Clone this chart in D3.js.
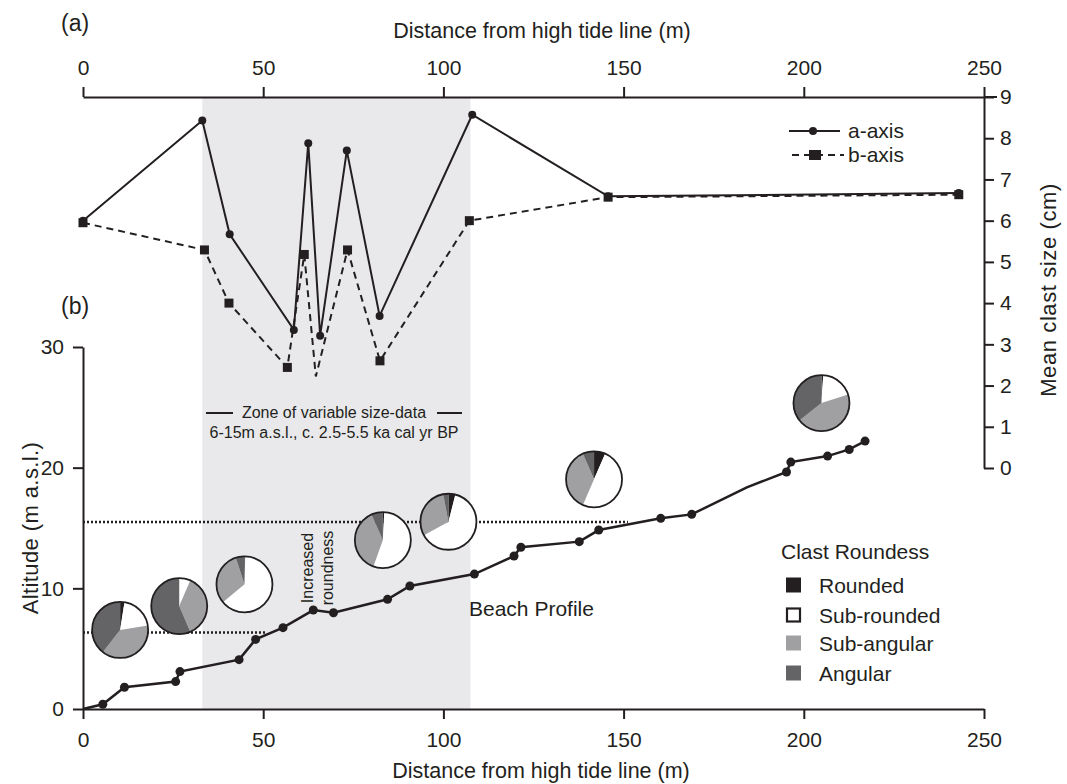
<!DOCTYPE html>
<html>
<head>
<meta charset="utf-8">
<script src="https://cdn.jsdelivr.net/npm/d3@7"></script>
<style>
body { margin: 0; background: #fff; }
svg text { font-family: "Liberation Sans", Arial, Helvetica, sans-serif; fill: #231f20; }
</style>
</head>
<body>
<div id="chart"></div>
<script>
// (a) mean clast size along the transect
var aDist = [0, 33.1, 40.7, 58.5, 62.5, 65.8, 73.2, 82.3, 108, 145.7, 243];
var aSize = [6.0, 8.43, 5.67, 3.35, 7.88, 3.21, 7.70, 3.69, 8.57, 6.59, 6.67];
var bDist = [0, 33.7, 40.5, 56.7, 61.4, 64.6, 73.4, 82.4, 107.2, 145.7, 243];
var bSize = [5.95, 5.29, 4.0, 2.44, 5.18, 2.22, 5.29, 2.60, 6.0, 6.57, 6.63];
var bNoMarker = [5];

// (b) beach profile
var profDist = [0, 5.5, 11.5, 25.7, 26.9, 43.3, 47.9, 55.5, 63.9, 69.5, 84.5, 90.7, 108.6,
                119.6, 121.5, 137.7, 143.1, 160.3, 168.9, 184.2, 195.2, 196.4, 206.6, 212.6, 217];
var profAlt = [0, 0.39, 1.8, 2.27, 3.1, 4.09, 5.77, 6.74, 8.2, 7.98, 9.09, 10.19, 11.18,
               12.68, 13.4, 13.87, 14.83, 15.8, 16.13, 18.37, 19.64, 20.46, 20.96, 21.51, 22.2];
var profNoMarker = [0, 19];

// clast roundness pies (percent)
var roundClasses = ["Rounded", "Sub-rounded", "Sub-angular", "Angular"];
var pieDist = [10.3, 26.7, 44.8, 83.2, 101.4, 141.8, 204.9];
var pieAlt = [6.55, 8.53, 10.33, 14.0, 15.52, 19.03, 25.35];
var pieRounded = [2.5, 0, 0.5, 0.8, 4, 6.5, 1];
var pieSubRounded = [20, 6.5, 63.6, 54.7, 63, 50, 19];
var pieSubAngular = [38, 37, 31, 37.8, 30, 37, 44.4];
var pieAngular = [39.5, 56.5, 5, 6.7, 3, 6.5, 35.6];

// zone + reference altitudes
var zoneStart = 33.1, zoneEnd = 107.5;
var refAlt = [6.35, 15.5];
var refEnd = [50.5, 151.2];

var distTicks = [0, 50, 100, 150, 200, 250];
var sizeTicks = [0, 1, 2, 3, 4, 5, 6, 7, 8, 9];
var altTicks = [0, 10, 20, 30];

var width = 1067, height = 784;
var ink = "#231f20";
var roundColors = [ink, "#ffffff", "#a0a0a3", "#646466"];

var svg = d3.select("#chart").append("svg")
    .attr("width", width)
    .attr("height", height);

var x = d3.scaleLinear().domain([0, 250]).range([83, 984]);
var yA = d3.scaleLinear().domain([0, 9]).range([468, 97]);
var yB = d3.scaleLinear().domain([0, 30]).range([709, 347]);

// grey zone
svg.append("rect")
    .attr("x", x(zoneStart))
    .attr("width", x(zoneEnd) - x(zoneStart))
    .attr("y", yA(9) + 1)
    .attr("height", yB(0) - yA(9) - 1)
    .attr("fill", "#e9e9eb");

function styleAxis(g, fs) {
  g.attr("font-family", null).attr("font-size", null);
  g.selectAll("path, line").attr("stroke", ink).attr("stroke-width", 2);
  g.selectAll("text").style("font-size", fs + "px").attr("fill", ink);
}

// axes
svg.append("g")
    .attr("transform", "translate(0," + yA(9) + ")")
    .call(d3.axisTop(x).tickValues(distTicks).tickSize(10).tickSizeOuter(0).tickPadding(12))
    .call(styleAxis, 21);
svg.append("line").attr("x1", x(250)).attr("x2", 997).attr("y1", yA(9)).attr("y2", yA(9))
    .attr("stroke", ink).attr("stroke-width", 2);

svg.append("g")
    .attr("transform", "translate(" + x(250) + ",0)")
    .call(d3.axisRight(yA).tickValues(sizeTicks).tickSize(10).tickSizeOuter(0).tickPadding(6))
    .call(styleAxis, 21);

svg.append("g")
    .attr("transform", "translate(" + x(0) + ",0)")
    .call(d3.axisLeft(yB).tickValues(altTicks).tickSize(10).tickSizeOuter(0).tickPadding(9))
    .call(styleAxis, 21);

svg.append("g")
    .attr("transform", "translate(0," + yB(0) + ")")
    .call(d3.axisBottom(x).tickValues(distTicks).tickSize(10).tickSizeOuter(0).tickPadding(13))
    .call(styleAxis, 21);

// axis titles
svg.append("text").attr("x", 542).attr("y", 38).attr("text-anchor", "middle")
    .style("font-size", "21.5px").text("Distance from high tide line (m)");
svg.append("text").attr("x", 541).attr("y", 778).attr("text-anchor", "middle")
    .style("font-size", "21.5px").text("Distance from high tide line (m)");
svg.append("text").attr("transform", "translate(1056,290) rotate(-90)").attr("text-anchor", "middle")
    .style("font-size", "22px").style("letter-spacing", "0.6px").text("Mean clast size (cm)");
svg.append("text").attr("transform", "translate(38,528) rotate(-90)").attr("text-anchor", "middle")
    .style("font-size", "22px").style("letter-spacing", "0.4px").text("Altitude (m a.s.l.)");
svg.append("text").attr("x", 61).attr("y", 31).style("font-size", "23px").text("(a)");
svg.append("text").attr("x", 61).attr("y", 314).style("font-size", "23px").text("(b)");

// reference dotted lines
svg.selectAll(".ref").data(refAlt).enter().append("line")
    .attr("x1", x(0)).attr("x2", function(d, i) { return x(refEnd[i]); })
    .attr("y1", function(d) { return yB(d); }).attr("y2", function(d) { return yB(d); })
    .attr("stroke", ink).attr("stroke-width", 2.5).attr("stroke-dasharray", "2,2");

// zone annotation
svg.append("text").attr("x", 334).attr("y", 418).attr("text-anchor", "middle")
    .style("font-size", "16px").text("Zone of variable size-data");
svg.append("line").attr("x1", 206).attr("x2", 233).attr("y1", 413).attr("y2", 413)
    .attr("stroke", ink).attr("stroke-width", 2);
svg.append("line").attr("x1", 437).attr("x2", 462).attr("y1", 413).attr("y2", 413)
    .attr("stroke", ink).attr("stroke-width", 2);
svg.append("text").attr("x", 334).attr("y", 438).attr("text-anchor", "middle")
    .style("font-size", "16px").text("6-15m a.s.l., c. 2.5-5.5 ka cal yr BP");

// (a) series
var lineA = d3.line().x(function(d, i) { return x(aDist[i]); }).y(function(d) { return yA(d); });
var lineB = d3.line().x(function(d, i) { return x(bDist[i]); }).y(function(d) { return yA(d); });

svg.append("path").attr("d", lineB(bSize)).attr("fill", "none")
    .attr("stroke", ink).attr("stroke-width", 2).attr("stroke-dasharray", "7,5");
svg.append("path").attr("d", lineA(aSize)).attr("fill", "none")
    .attr("stroke", ink).attr("stroke-width", 2);

bSize.forEach(function(d, i) {
  if (bNoMarker.indexOf(i) >= 0) return;
  svg.append("rect")
      .attr("x", x(bDist[i]) - 4.5).attr("y", yA(d) - 4.5)
      .attr("width", 9).attr("height", 9).attr("fill", ink);
});

svg.selectAll(".am").data(aSize).enter().append("circle")
    .attr("cx", function(d, i) { return x(aDist[i]); })
    .attr("cy", function(d) { return yA(d); })
    .attr("r", 4).attr("fill", ink);

// a/b legend
svg.append("line").attr("x1", 789).attr("x2", 840).attr("y1", 131).attr("y2", 131)
    .attr("stroke", ink).attr("stroke-width", 2);
svg.append("circle").attr("cx", 813).attr("cy", 131).attr("r", 4).attr("fill", ink);
svg.append("text").attr("x", 848).attr("y", 138).style("font-size", "21px").text("a-axis");
svg.append("line").attr("x1", 792).attr("x2", 844).attr("y1", 155).attr("y2", 155)
    .attr("stroke", ink).attr("stroke-width", 2).attr("stroke-dasharray", "7,5");
svg.append("rect").attr("x", 809).attr("y", 150).attr("width", 12).attr("height", 10).attr("fill", ink);
svg.append("text").attr("x", 848).attr("y", 162).style("font-size", "21px").text("b-axis");

// beach profile
var lineP = d3.line().x(function(d, i) { return x(profDist[i]); }).y(function(d) { return yB(d); });
svg.append("path").attr("d", lineP(profAlt)).attr("fill", "none")
    .attr("stroke", ink).attr("stroke-width", 2.5);
profAlt.forEach(function(d, i) {
  if (profNoMarker.indexOf(i) >= 0) return;
  svg.append("circle").attr("cx", x(profDist[i])).attr("cy", yB(d)).attr("r", 4.5).attr("fill", ink);
});

// pies
var pie = d3.pie().sort(null);
var arc = d3.arc().innerRadius(0).outerRadius(28);
pieDist.forEach(function(d, i) {
  var vals = [pieRounded[i], pieSubRounded[i], pieSubAngular[i], pieAngular[i]];
  var g = svg.append("g").attr("transform", "translate(" + x(d) + "," + yB(pieAlt[i]) + ")");
  g.selectAll("path").data(pie(vals)).enter().append("path")
      .attr("d", arc)
      .attr("fill", function(s, j) { return roundColors[j]; });
  g.append("circle").attr("r", 28).attr("fill", "none").attr("stroke", ink).attr("stroke-width", 1.8);
});

// text notes
svg.append("text").attr("transform", "translate(313,568) rotate(-90)").attr("text-anchor", "middle")
    .style("font-size", "16px").text("Increased");
svg.append("text").attr("transform", "translate(333,568) rotate(-90)").attr("text-anchor", "middle")
    .style("font-size", "16px").text("roundness");
svg.append("text").attr("x", 469).attr("y", 616).style("font-size", "21px").text("Beach Profile");

// roundness legend
svg.append("text").attr("x", 781).attr("y", 559).style("font-size", "21px").text("Clast Roundess");
roundClasses.forEach(function(c, i) {
  var yy = [585, 615, 643, 673][i];
  svg.append("rect").attr("x", i == 1 ? 787 : 786).attr("y", yy - 7.5 + (i == 1 ? 1 : 0))
      .attr("width", i == 1 ? 13 : 15).attr("height", i == 1 ? 13 : 15)
      .attr("fill", roundColors[i])
      .attr("stroke", i == 1 ? ink : "none").attr("stroke-width", 2.2);
  svg.append("text").attr("x", 819).attr("y", yy + 7.5).style("font-size", "21px").text(c);
});
</script>
</body>
</html>
